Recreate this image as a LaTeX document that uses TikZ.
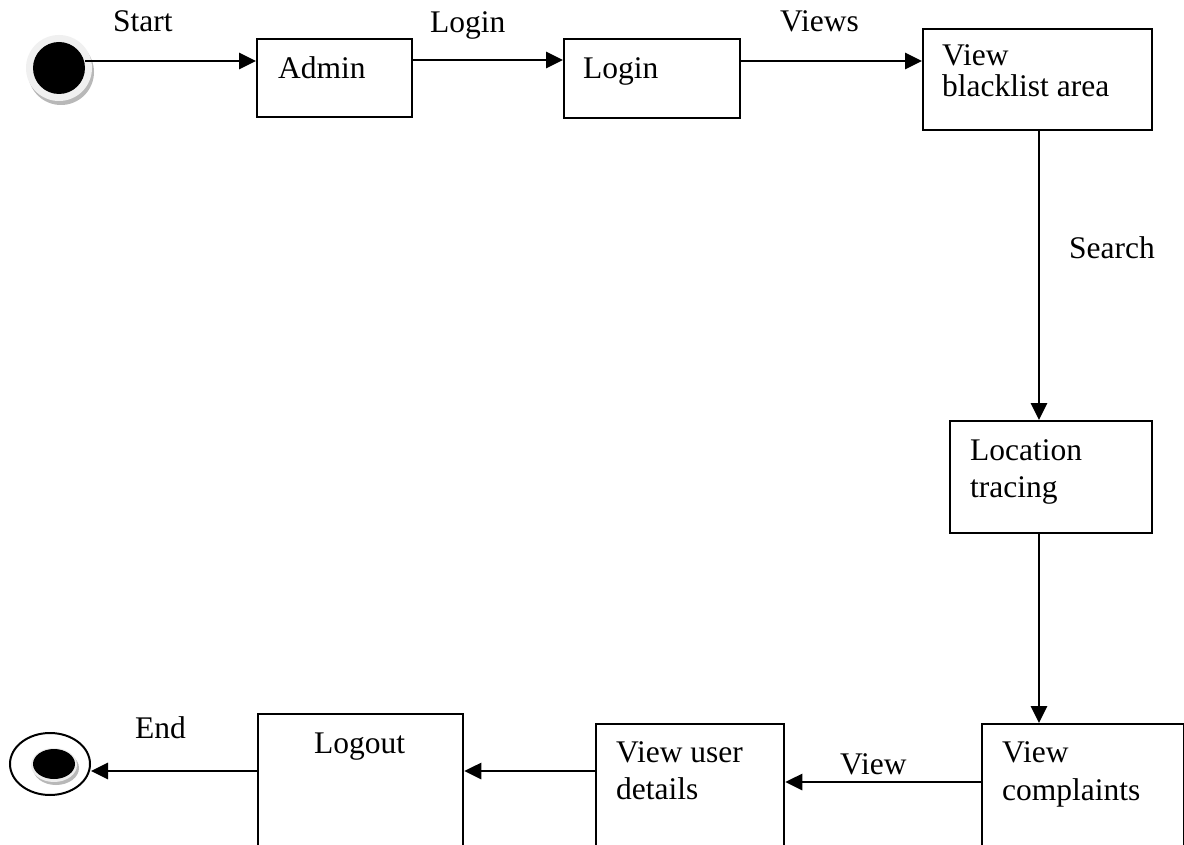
\documentclass[tikz,border=0pt]{standalone}
\usepackage{fontspec}
\setmainfont{Liberation Serif}
\usetikzlibrary{arrows.meta,shapes.geometric}

\newcommand\bodyfont{\fontsize{31.5}{37}\selectfont}
\newcommand\twolines[3]{\parbox[t]{9cm}{\fontsize{31.5}{#1}\selectfont #2\\#3}}

\tikzset{
  box/.style={draw, line width=2.3pt, inner sep=0pt, anchor=north west},
  txt/.style={anchor=base west, inner sep=0pt, font=\bodyfont},
  arr/.style={line width=2.8pt, -{Triangle[length=17pt,width=16pt]}},
}

\begin{document}
\begin{tikzpicture}[x=1pt,y=-1pt]
\useasboundingbox (0,0) rectangle (1184,845);
\fill[white] (0,0) rectangle (1184,845);
\begin{scope}
\clip (0,0) rectangle (1184,845);

% initial state
\fill[black!28] (61,72) circle (33pt);
\fill[black!6] (59,68) circle (33pt);
\node[circle, fill=black, minimum size=52pt, inner sep=0pt] (start) at (59,68) {};

% final state
\node[ellipse, draw, line width=2pt, fill=white, minimum width=80pt,
      minimum height=62pt, inner sep=0pt] (end) at (50,764) {};
\fill[black!28] (56,768) ellipse (23pt and 17pt);
\fill[black!7] (54,765) ellipse (23pt and 17pt);
\fill[black] (54,764) ellipse (21pt and 15pt);

% states
\node[box, minimum width=155pt, minimum height=78pt] (admin) at (256,38) {};
\node[box, minimum width=176pt, minimum height=79pt] (login) at (563,38) {};
\node[box, minimum width=229pt, minimum height=101pt] (black) at (922,28) {};
\node[box, minimum width=202pt, minimum height=112pt] (loc) at (949,420) {};
\node[box, minimum width=202pt, minimum height=150pt] (compl) at (981,723) {};
\node[box, minimum width=188pt, minimum height=150pt] (user) at (595,723) {};
\node[box, minimum width=205pt, minimum height=160pt] (logout) at (257,713) {};

% state texts
\node[txt] (admin-t) at (278,79) {Admin};
\node[txt] (login-t) at (583,79) {Login};
\node[txt] (black-t) at (942,66) {\twolines{31}{View}{blacklist area}};
\node[txt] (loc-t) at (970,460) {\twolines{37}{Location}{tracing}};
\node[txt] (user-t) at (616,762) {\twolines{37}{View user}{details}};
\node[txt] (compl-t) at (1002,762) {\twolines{38}{View}{complaints}};
\node[anchor=base, inner sep=0pt, font=\bodyfont] (logout-t) at (359.5,753) {Logout};

% transitions
\draw[arr] (start.east |- 0,61) -- (admin.west |- 0,61);
\draw[arr] (admin.east |- 0,60) -- (login.west |- 0,60);
\draw[arr] (login.east |- 0,61) -- (black.west |- 0,61);
\draw[arr] (black.south -| 1039,0) -- (loc.north -| 1039,0);
\draw[arr] (loc.south -| 1039,0) -- (compl.north -| 1039,0);
\draw[arr] (compl.west |- 0,782) -- (user.east |- 0,782);
\draw[arr] (user.west |- 0,771) -- (logout.east |- 0,771);
\draw[arr] (logout.west |- 0,771) -- (end.east |- 0,771);

% transition labels
\node[txt] (l-start) at (113,32) {Start};
\node[txt] (l-login) at (430,33) {Login};
\node[txt] (l-views) at (780,32) {Views};
\node[txt] (l-search) at (1069,259) {Search};
\node[txt] (l-view) at (840,774) {View};
\node[txt] (l-end) at (135,738) {End};
\end{scope}
\end{tikzpicture}
\end{document}
